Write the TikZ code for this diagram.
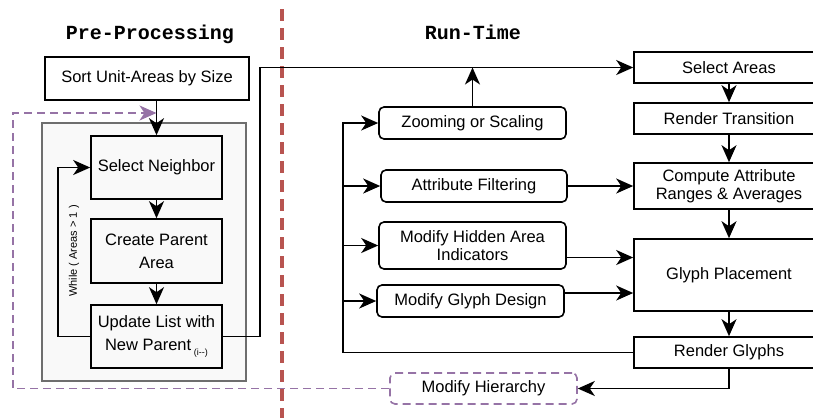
\documentclass[tikz,border=0pt]{standalone}
\usepackage{fontspec}
\setmainfont{Liberation Sans}
\setmonofont{Liberation Mono}
\usetikzlibrary{arrows.meta}
\definecolor{sepred}{HTML}{B85450}
\definecolor{hierpurple}{HTML}{9673A6}
\definecolor{framegray}{HTML}{6E6E6E}
\definecolor{framefill}{HTML}{F9F9F9}
\begin{document}
\begin{tikzpicture}[x=1pt,y=-1pt,
  box/.style={draw, line width=1.6pt, inner sep=0pt, align=center,
    font=\fontsize{16.5}{18.5}\selectfont},
  lbox/.style={box, font=\fontsize{16.5}{23}\selectfont},
  rbox/.style={box, rounded corners=5pt},
  conn/.style={line width=1.6pt},
  arr/.style={conn, -{Stealth[length=17pt,width=15pt,inset=5pt]}},
  title/.style={font=\fontsize{20}{22}\selectfont\ttfamily\bfseries}]
\useasboundingbox (0,0) rectangle (813,418);
\clip (0,0) rectangle (813,418);
% titles
\node[title] (pretitle) at (150,34) {Pre-Processing};
\node[title] (rttitle) at (473,32) {Run-Time};
% pre-processing
\node[box, minimum width=204pt, minimum height=43pt] (sort) at (147,78.5) {Sort Unit-Areas by Size};
\node[draw=framegray, fill=framefill, line width=1.6pt, minimum width=204pt, minimum height=258pt] (frame) at (144,252) {};
\node[lbox, minimum width=131pt, minimum height=63pt] (selnb) at (156.5,167.5) {Select Neighbor};
\node[lbox, minimum width=131pt, minimum height=64pt] (create) at (156.5,251) {Create Parent\\Area};
\node[lbox, minimum width=131pt, minimum height=63pt] (update) at (156.5,336.5) {Update List with\\New Parent\,{\fontsize{9}{10}\selectfont\raisebox{-5pt}{(i-{}-)}}};
\node[rotate=90, font=\fontsize{11}{12}\selectfont] (wlabel) at (74,251) {While ( Areas > 1 )};
\draw[arr] (sort.south -| selnb.north) -- (selnb.north);
\draw[arr] (selnb) -- (create);
\draw[arr] (create) -- (update);
\draw[arr] (update.west) -- ++(-32,0) |- (selnb.west);
% separator
\coordinate (septop) at (282,9);
\coordinate (sepbot) at (282,418);
\draw[sepred, line width=3.5pt, dash pattern=on 12pt off 7pt] (septop) -- (sepbot);
% run-time
\node[box, minimum width=190pt, minimum height=31pt] (selareas) at (729,67.5) {Select Areas};
\node[box, minimum width=190pt, minimum height=31pt] (rtrans) at (729,118.5) {Render Transition};
\node[box, minimum width=190pt, minimum height=46pt] (compute) at (729,186) {Compute Attribute\\Ranges \& Averages};
\node[box, minimum width=190pt, minimum height=72pt] (gplace) at (729,275) {Glyph Placement};
\node[box, minimum width=190pt, minimum height=31pt] (rglyphs) at (729,352.5) {Render Glyphs};
\node[rbox, minimum width=187pt, minimum height=32pt] (zoom) at (472.5,123) {Zooming or Scaling};
\node[rbox, minimum width=186pt, minimum height=32pt] (filt) at (474,186) {Attribute Filtering};
\node[rbox, minimum width=187pt, minimum height=47pt] (hidden) at (472.5,245.5) {Modify Hidden Area\\Indicators};
\node[rbox, minimum width=187pt, minimum height=32pt] (gdesign) at (470.5,301) {Modify Glyph Design};
\node[rbox, draw=hierpurple, dashed, dash pattern=on 8pt off 5pt, minimum width=187pt, minimum height=31pt] (modh) at (483.5,388.5) {Modify Hierarchy};
\coordinate (upr) at (260,67.5);
\coordinate (bustop) at (343,123);
\coordinate (lpur) at (13,388.5);
\coordinate (mrg) at (156.5,113);
\draw[arr] (update.east) -| (upr) -- (selareas.west);
\draw[arr] (zoom.north) -- (zoom.north |- selareas.west);
\draw[arr] (selareas) -- (rtrans);
\draw[arr] (rtrans) -- (compute);
\draw[arr] (compute) -- (gplace);
\draw[arr] (gplace) -- (rglyphs);
\draw[arr] (rglyphs.west) -| (bustop) -- (zoom.west);
\draw[arr] (bustop |- filt.west) -- (filt.west);
\draw[arr] (bustop |- hidden.west) -- (hidden.west);
\draw[arr] (bustop |- gdesign.west) -- (gdesign.west);
\draw[arr] (filt.east) -- (filt.east -| compute.west);
\draw[arr] ([yshift=-12pt]hidden.east) -- ([yshift=-12pt]hidden.east -| gplace.west);
\draw[arr] ([yshift=8pt]gdesign.east) -- ([yshift=8pt]gdesign.east -| gplace.west);
\draw[arr] (rglyphs.south) |- (modh.east);
\draw[arr, hierpurple, dash pattern=on 8pt off 5pt] (modh.west) -- (lpur) |- (mrg);
\end{tikzpicture}
\end{document}
